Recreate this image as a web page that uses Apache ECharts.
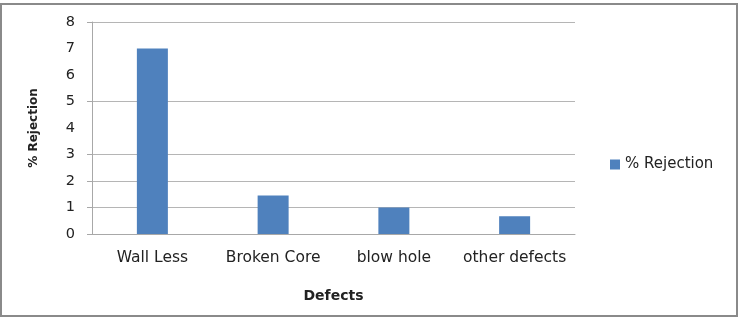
<!DOCTYPE html>
<html><head><meta charset="utf-8">
<script src="https://cdn.jsdelivr.net/npm/echarts@6/dist/echarts.min.js"></script>
<style>html,body{margin:0;padding:0;background:#fff}#c{width:740px;height:318px}</style>
</head><body><div id="c"></div>
<script>
const categories = ['Wall Less', 'Broken Core', 'blow hole', 'other defects'];
const rejection = [7.0, 1.45, 1.0, 0.67];
const seriesName = '% Rejection';
const yTickLabels = [0, 1, 2, 3, 4, 5, 6, 7, 8];
const visibleGridValues = [0, 1, 2, 3, 5, 8];
const FONT = '"DejaVu Sans", sans-serif';
const chart = echarts.init(document.getElementById('c'));
chart.setOption({
  animation: false,
  backgroundColor: '#fff',
  graphic: [{type:'rect', shape:{x:1,y:4,width:736,height:312}, style:{fill:'none', stroke:'#8a8a8a', lineWidth:2}}],
  grid: {left: 92, right: 165, top: 22, bottom: 84},
  legend: {
    data: [seriesName], left: 605, top: 152, itemWidth: 10, itemHeight: 10, itemGap: 5,
    icon: 'rect', textStyle: {fontFamily: FONT, fontSize: 15, color: '#222'}
  },
  xAxis: {
    type: 'category', data: categories,
    name: 'Defects', nameLocation: 'middle', nameGap: 55,
    nameTextStyle: {fontFamily: FONT, fontSize: 14, fontWeight: 'bold', color: '#222'},
    axisLine: {lineStyle: {color: '#a8a8a8', width: 1}},
    axisTick: {show: false},
    splitLine: {show: false},
    axisLabel: {fontFamily: FONT, fontSize: 15.5, color: '#222', margin: 16, interval: 0, hideOverlap: false}
  },
  yAxis: {
    type: 'value', min: 0, max: 8, interval: 1,
    name: '% Rejection', nameLocation: 'middle', nameGap: 52, nameRotate: 90,
    nameTextStyle: {fontFamily: FONT, fontSize: 12, fontWeight: 'bold', color: '#222'},
    axisLine: {show: true, lineStyle: {color: '#a8a8a8'}},
    axisTick: {show: true, length: 5, lineStyle: {color: '#a8a8a8'}, customValues: visibleGridValues},
    axisLabel: {fontFamily: FONT, fontSize: 14.5, color: '#222', margin: 17, customValues: yTickLabels},
    splitLine: {show: true, lineStyle: {color: '#b5b5b5', width: 1}}
  },
  series: [{
    name: seriesName, type: 'bar', data: rejection, barWidth: 31,
    itemStyle: {color: '#4f81bd'}
  }]
});
</script></body></html>
